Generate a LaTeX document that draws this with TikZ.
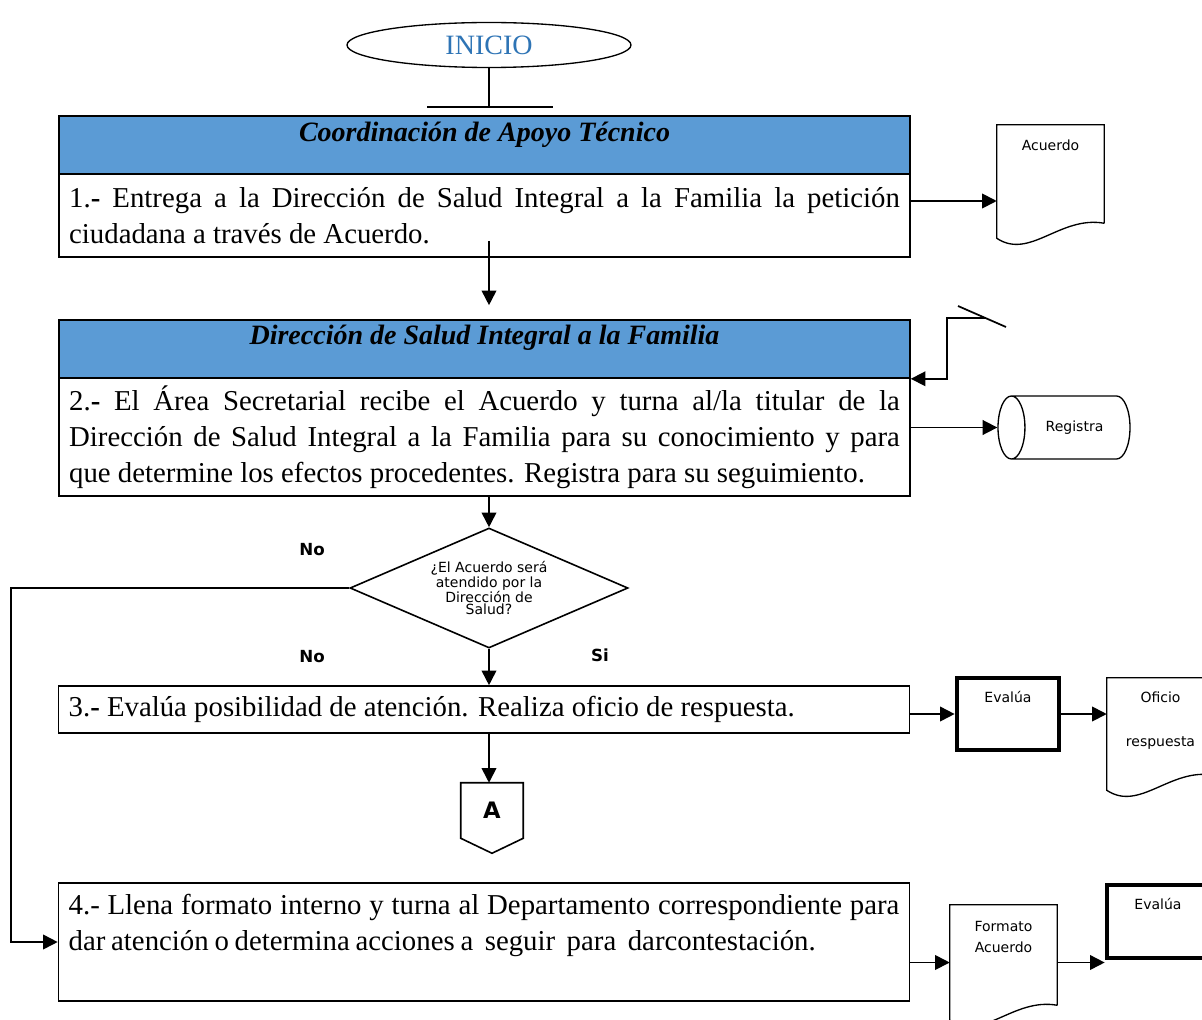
\documentclass[tikz,border=0pt]{standalone}
\usepackage{fontspec}
\setmainfont{Liberation Serif}
\newfontfamily\sansetq{DejaVu Sans}
\usetikzlibrary{shapes.geometric,arrows.meta}

\definecolor{azulcab}{HTML}{5B9BD5}
\definecolor{azulini}{HTML}{2E74B5}

% contorno de documento con borde ondulado
\newcommand{\dibujahoja}[1]{%
  \draw[line width=1pt] ([yshift=11.25pt]#1.south east) -- (#1.north east) -- (#1.north west) -- (#1.south west)
    .. controls ([shift={(24.75pt,-16.5pt)}]#1.south west) and ([shift={(-33pt,17.25pt)}]#1.south east) .. ([yshift=11.25pt]#1.south east);}
\newcommand{\margen}{\rightskip=17.25pt\relax}

\begin{document}
\begin{tikzpicture}[x=0.75pt,y=-0.75pt,
    caja/.style={draw, line width=1.2pt, minimum width=638.25pt, text width=623pt, inner xsep=7.5pt, align=justify, font=\fontsize{21.6}{27}\selectfont},
    encabezado/.style={draw, line width=1.2pt, fill=azulcab, minimum width=638.25pt, minimum height=43.5pt},
    titulo/.style={font=\fontsize{21}{24}\selectfont\bfseries\itshape},
    flecha/.style={line width=1.3pt, -{Triangle[length=11pt,width=11pt]}},
    linea/.style={line width=1.3pt},
    hoja/.style={minimum width=80.25pt, inner sep=0pt},
    etq/.style={font=\sansetq\fontsize{10.5}{12}\selectfont, align=center},
    gruesa/.style={draw, line width=3.5pt, minimum width=76.5pt, minimum height=54pt},
    resp/.style={font=\sansetq\bfseries\fontsize{12.5}{14}\selectfont}]
  \useasboundingbox (0,0) rectangle (1202,1020);
  \clip (0,0) rectangle (1202,1020);

  % inicio
  \node[ellipse, draw, line width=1pt, minimum width=213pt, minimum height=33.75pt, text=azulini, font=\fontsize{21}{22}\selectfont] (inicio) at (489,45) {INICIO};
  \coordinate (barraI) at (427,107);
  \coordinate (barraD) at (553,107);
  \draw[linea] (inicio.south) -- (inicio.south |- barraI);
  \draw[linea] (barraI) -- (barraD);

  % paso 1
  \node[encabezado, label={[titulo, yshift=7.5pt]center:Coordinación de Apoyo Técnico}] (cab1) at (484.5,145) {};
  \node[caja, minimum height=62.25pt] (paso1) at (484.5,215.5) {\margen 1.\textbf{-} Entrega a la Dirección de Salud Integral a la Familia la petición\linebreak ciudadana a través de Acuerdo.};
  \node[hoja, minimum height=84.75pt, label={[etq, anchor=center, yshift=-15.75pt]north:Acuerdo}] (acuerdo) at (1050.5,181.5) {};
  \dibujahoja{acuerdo}
  \draw[flecha] ([yshift=10.875pt]paso1.east) -- ([yshift=-14.625pt]acuerdo.west);

  % paso 2
  \node[encabezado, label={[titulo, yshift=8.25pt]center:Dirección de Salud Integral a la Familia}] (cab2) at (484.5,349) {};
  \node[caja, minimum height=88.5pt] (paso2) at (484.5,437) {\margen\parfillskip=0pt 2.\textbf{-} El Área Secretarial recibe el Acuerdo y turna al/la titular de la\linebreak Dirección de Salud Integral a la Familia para su conocimiento y para\linebreak que determine los efectos procedentes. Registra para su seguimiento.};
  \draw[flecha, shorten <=-12.75pt, shorten >=10.5pt] (paso1.south -| inicio.south) -- (cab2.north -| inicio.south);
  \coordinate (retA) at (985,318);
  \coordinate (retB) at (958,306);
  \coordinate (retC) at (1006,327);
  \draw[flecha] (retA) -- ++(-38,0) |- (cab2.south east);
  \draw[linea] (retB) -- (retC);
  \node[cylinder, draw, line width=1pt, shape border rotate=180, aspect=1.2, minimum width=47.25pt, minimum height=99pt, anchor=shape center, etq] (registra) at (1064,427.5) {Registra};
  \draw[flecha] (paso2.east |- registra.west) -- (registra.west);

  % decision
  \node[diamond, draw, line width=1.2pt, aspect=2.32, minimum width=208.5pt, minimum height=90pt, inner sep=0pt, align=center, font=\sansetq\fontsize{10.5}{9.2}\selectfont] (pregunta) at (489,588) {¿El Acuerdo será\\atendido por la\\Dirección de\\Salud?};
  \draw[flecha] (paso2.south -| pregunta.north) -- (pregunta.north);
  \node[resp] (no1) at (312,550) {No};
  \node[resp] (no2) at (312,657) {No};
  \node[resp] (si) at (600,655) {Si};

  % paso 3
  \node[caja, minimum height=35.25pt] (paso3) at (484,709.5) {\margen 3.\textbf{-} Evalúa posibilidad de atención. Realiza oficio de respuesta.};
  \draw[flecha] (pregunta.south) -- (pregunta.south |- paso3.north);
  \node[gruesa, label={[etq, anchor=center, yshift=-15.75pt]north:Evalúa}] (evalua1) at (1008,714) {};
  \node[hoja, minimum height=84pt, label={[etq, anchor=center, yshift=-32.25pt, font=\sansetq\fontsize{10.5}{33}\selectfont]north:Oficio\\respuesta}] (oficio) at (1160.5,734) {};
  \dibujahoja{oficio}
  \draw[flecha] (paso3.east |- evalua1.west) -- (evalua1.west);
  \draw[flecha] (evalua1.east) -- (evalua1.east -| oficio.west);

  % conector A
  \node[minimum width=46.5pt, minimum height=41.25pt, inner sep=0pt, font=\sansetq\bfseries\fontsize{17}{17}\selectfont] (conA) at (492,810.5) {A};
  \draw[line width=1.2pt] (conA.south west) -- (conA.north west) -- (conA.north east) -- (conA.south east) -- ([yshift=-11.25pt]conA.south) -- cycle;
  \draw[flecha, shorten <=-1.5pt] (paso3.south -| inicio.south) -- (conA.north -| inicio.south);

  % paso 4
  \node[caja, minimum height=88.5pt, text depth=57pt] (paso4) at (484,942) {\margen\spaceskip=0.2em plus 0.1em minus 0.05em 4.- Llena formato interno y turna al Departamento correspondiente para\linebreak dar atención o determina acciones a\ \ seguir\ \ para\ \ darcontestación.};
  \draw[flecha] (pregunta.west) -- ++(-338,0) |- (paso4.west);
  \node[hoja, minimum height=86.25pt, label={[etq, anchor=center, yshift=-24.4pt, font=\sansetq\fontsize{10.5}{15.75}\selectfont]north:Formato\\Acuerdo}] (formato) at (1003.5,962.5) {};
  \dibujahoja{formato}
  \node[gruesa, minimum height=54.75pt, label={[etq, anchor=center, yshift=-15.75pt]north:Evalúa}] (evalua2) at (1158,921.5) {};
  \draw[flecha] (paso4.east |- formato.west) -- (formato.west);
  \draw[flecha] (formato.east) -- (formato.east -| evalua2.west);
\end{tikzpicture}
\end{document}
